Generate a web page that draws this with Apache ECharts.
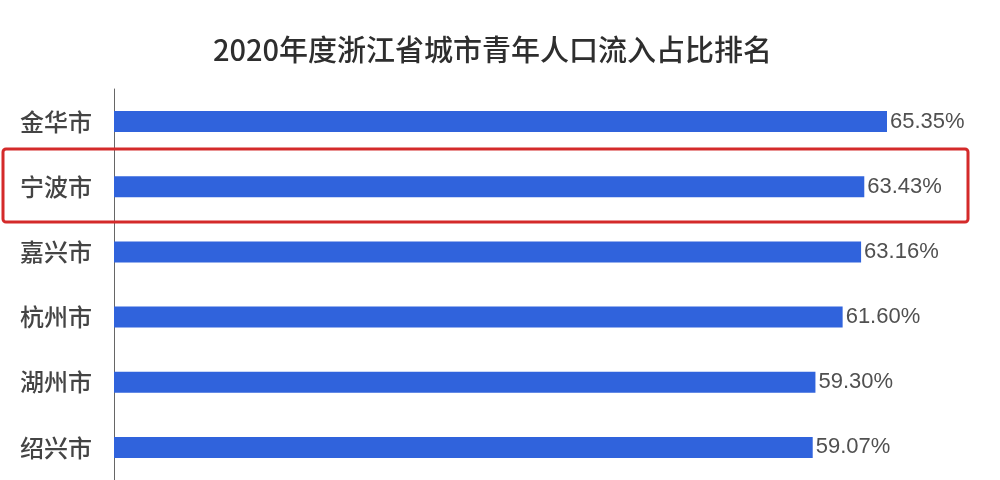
<!DOCTYPE html>
<html>
<head>
<meta charset="utf-8">
<script src="https://cdn.jsdelivr.net/npm/echarts@6/dist/echarts.min.js"></script>
<style>html,body{margin:0;padding:0;background:#fff;}#c{width:1000px;height:480px;}</style>
</head>
<body>
<div id="c"></div>
<script>
const titleText = '2020年度浙江省城市青年人口流入占比排名';
const categories = ['金华市', '宁波市', '嘉兴市', '杭州市', '湖州市', '绍兴市'];
const values = [65.35, 63.43, 63.16, 61.60, 59.30, 59.07];

const chart = echarts.init(document.getElementById('c'));
chart.setOption({
  backgroundColor: '#ffffff',
  animation: false,
  title: {
    text: titleText,
    left: 208,
    top: 30,
    textStyle: { fontFamily: 'Noto Sans CJK SC', fontSize: 29, fontWeight: 500, color: '#2e2e2e' }
  },
  grid: { left: 114, right: 58, top: 89, bottom: 0, containLabel: false },
  xAxis: {
    type: 'value', min: 0, max: 70, show: false
  },
  yAxis: {
    type: 'category',
    data: categories,
    inverse: true,
    axisLine: { show: true, lineStyle: { color: '#666', width: 1 } },
    axisTick: { show: false },
    axisLabel: { margin: 22, fontFamily: 'Noto Sans CJK SC', fontSize: 24, fontWeight: 500, color: '#444' }
  },
  series: [{
    type: 'bar',
    data: values,
    barWidth: 21,
    itemStyle: { color: '#3063dc' },
    label: {
      show: true, position: 'right', distance: 3,
      formatter: p => p.value.toFixed(2) + '%',
      fontFamily: 'Liberation Sans', fontSize: 22, color: '#505050'
    }
  }],
  graphic: [{
    type: 'rect',
    shape: { x: 3, y: 149, width: 965, height: 73, r: 3 },
    style: { fill: 'none', stroke: '#d42a2a', lineWidth: 3 },
    z: 10
  }]
});
</script>
</body>
</html>
